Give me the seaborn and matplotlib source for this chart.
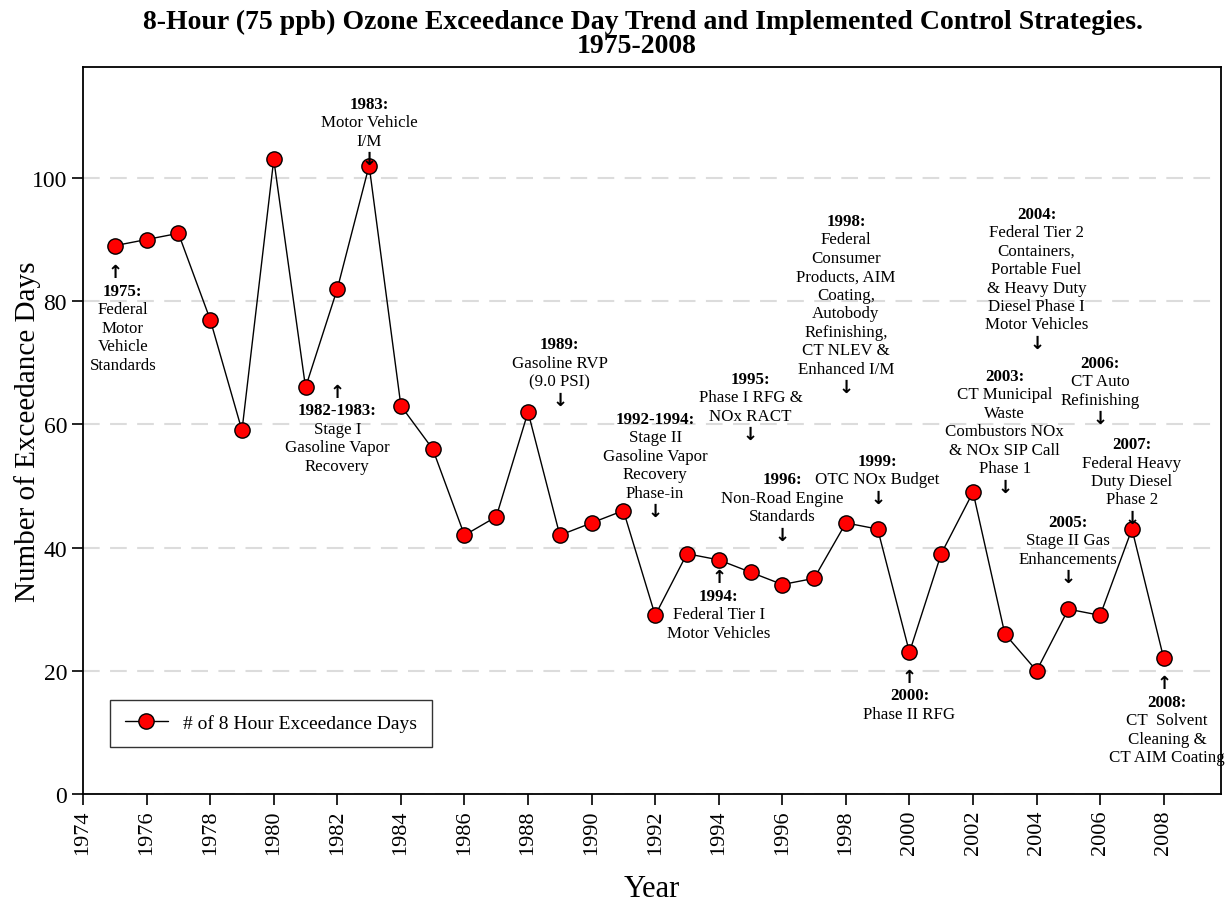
import matplotlib
matplotlib.use("Agg")
import matplotlib.pyplot as plt
import seaborn as sns
import pandas as pd

# Annual 8-hour ozone exceedance days
years = list(range(1975, 2009))
exceed_days = [89, 90, 91, 77, 59, 103, 66, 82, 102, 63,
               56, 42, 45, 62, 42, 44, 46, 29, 39, 38,
               36, 34, 35, 44, 43, 23, 39, 49, 26, 20,
               30, 29, 43, 22]

x_ticks = list(range(1974, 2009, 2))
y_ticks = [0, 20, 40, 60, 80, 100]

# Control strategy notes: (year, header, body lines, arrow direction)
strategies = [
    (1975, "1975:", ["Federal", "Motor", "Vehicle", "Standards"], "up"),
    (1983, "1983:", ["Motor Vehicle", "I/M"], "down"),
    (1982, "1982-1983:", ["Stage I", "Gasoline Vapor", "Recovery"], "up"),
    (1989, "1989:", ["Gasoline RVP", "(9.0 PSI)"], "down"),
    (1992, "1992-1994:", ["Stage II", "Gasoline Vapor", "Recovery", "Phase-in"], "down"),
    (1994, "1994:", ["Federal Tier I", "Motor Vehicles"], "up"),
    (1995, "1995:", ["Phase I RFG &", "NOx RACT"], "down"),
    (1996, "1996:", ["Non-Road Engine", "Standards"], "down"),
    (1998, "1998:", ["Federal", "Consumer", "Products, AIM", "Coating,", "Autobody",
                     "Refinishing,", "CT NLEV &", "Enhanced I/M"], "down"),
    (1999, "1999:", ["OTC NOx Budget"], "down"),
    (2000, "2000:", ["Phase II RFG"], "up"),
    (2003, "2003:", ["CT Municipal", "Waste", "Combustors NOx", "& NOx SIP Call", "Phase 1"], "down"),
    (2004, "2004:", ["Federal Tier 2", "Containers,", "Portable Fuel", "& Heavy Duty",
                     "Diesel Phase I", "Motor Vehicles"], "down"),
    (2006, "2006:", ["CT Auto", "Refinishing"], "down"),
    (2007, "2007:", ["Federal Heavy", "Duty Diesel", "Phase 2"], "down"),
    (2005, "2005:", ["Stage II Gas", "Enhancements"], "down"),
    (2008, "2008:", ["CT  Solvent", "Cleaning &", "CT AIM Coating"], "up"),
]
# layout: y of the first line of each note, x shift of the text block
note_top = {1975: 84.7, 1983: 112.0, 1982: 65.3, 1989: 73.0, 1992: 60.9,
            1994: 35.2, 1995: 67.4, 1996: 51.1, 1998: 93.0, 1999: 54.1,
            2000: 19.0, 2003: 67.9, 2004: 94.2, 2006: 70.0, 2007: 56.8,
            2005: 44.2, 2008: 18.0}
note_dx = {1975: 0.25, 2008: 0.1}

df = pd.DataFrame({"Year": years, "Days": exceed_days})

sns.set_theme(style="ticks")
serif = ["Liberation Serif", "DejaVu Serif"]
plt.rcParams["font.family"] = serif
plt.rcParams["text.color"] = "black"
plt.rcParams["axes.labelcolor"] = "black"

fig = plt.figure(figsize=(12.25, 9.03), dpi=100)
ax = fig.add_axes([0.0678, 0.1196, 0.9289, 0.8051])

for yv in y_ticks:
    ax.axhline(yv, color="#dcdcdc", lw=1.5, ls=(0, (8, 5)), zorder=0)

sns.lineplot(data=df, x="Year", y="Days", ax=ax, color="black", linewidth=1,
             marker="o", markersize=11, markerfacecolor="red",
             markeredgecolor="black", markeredgewidth=1,
             label="# of 8 Hour Exceedance Days", zorder=3)

ax.set_xlim(1974, 2009.8)
ax.set_ylim(0, 118)
ax.set_xticks(x_ticks)
ax.set_xticklabels([str(t) for t in x_ticks], rotation=90, fontsize=16)
ax.set_yticks(y_ticks)
ax.set_yticklabels([str(t) for t in y_ticks], fontsize=17)
ax.tick_params(direction="out", length=8, width=1.2, colors="black")
for s in ax.spines.values():
    s.set_color("black")
    s.set_linewidth(1.3)

ax.set_xlabel("Year", fontsize=22, labelpad=14)
ax.set_ylabel("Number of Exceedance Days", fontsize=21)
ax.yaxis.set_label_coords(-0.037, 0.5)

step = 13.3  # points between note lines
arrow_font = ["DejaVu Sans"]
for yr, head, body, direction in strategies:
    top = note_top[yr]
    tx = yr + note_dx.get(yr, 0)
    lines = []
    if direction == "up":
        lines.append(("arrow", "\u2191", yr))
    lines.append(("head", head, tx))
    for b in body:
        lines.append(("body", b, tx))
    if direction == "down":
        lines.append(("arrow", "\u2193", yr))
    for i, (kind, txt, xx) in enumerate(lines):
        kw = dict(ha="center", va="center", color="black",
                  textcoords="offset points", xytext=(0, -i * step))
        if kind == "arrow":
            ax.annotate(txt, (xx, top), family=arrow_font, fontsize=13,
                        fontweight="bold", **kw)
        elif kind == "head":
            ax.annotate(txt, (xx, top), fontsize=12.2, fontweight="bold", **kw)
        else:
            ax.annotate(txt, (xx, top), fontsize=12.2, **kw)

leg = ax.legend(loc="lower left", bbox_to_anchor=(0.024, 0.065), fontsize=14,
                frameon=True, fancybox=False, edgecolor="black",
                borderpad=0.75, borderaxespad=0, handlelength=2.2)
leg.get_frame().set_linewidth(1.0)
for t in leg.get_texts():
    t.set_color("black")

fig.text(0.525, 0.975, "8-Hour (75 ppb) Ozone Exceedance Day Trend and Implemented Control Strategies.",
         ha="center", va="center", fontsize=20, fontweight="bold", color="black")
fig.text(0.52, 0.948, "1975-2008", ha="center", va="center", fontsize=20,
         fontweight="bold", color="black")

fig.savefig("out.png", dpi=100)
